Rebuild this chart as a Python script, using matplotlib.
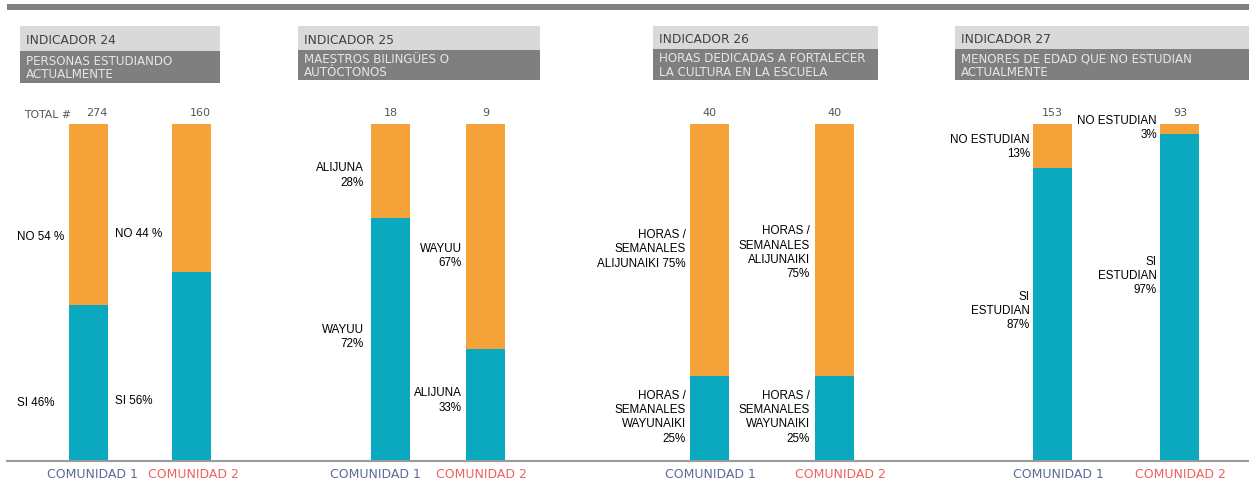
import numpy as np
import matplotlib
matplotlib.use('Agg')
import matplotlib.pyplot as plt
from matplotlib.patches import Rectangle

# data
indicadores = ['INDICADOR 24', 'INDICADOR 25', 'INDICADOR 26', 'INDICADOR 27']
subtitulos = ['PERSONAS ESTUDIANDO\nACTUALMENTE',
              'MAESTROS BILINGÜES O\nAUTÓCTONOS',
              'HORAS DEDICADAS A FORTALECER\nLA CULTURA EN LA ESCUELA',
              'MENORES DE EDAD QUE NO ESTUDIAN\nACTUALMENTE']
comunidades = ['COMUNIDAD 1', 'COMUNIDAD 2']
totales = [[274, 160], [18, 9], [40, 40], [153, 93]]
base_pct = [[46, 56], [72, 33], [25, 25], [87, 97]]   # teal segment (bottom)
sup_pct = [[54, 44], [28, 67], [75, 75], [13, 3]]     # orange segment (top)
etiq_sup = [['NO 54 %', 'NO 44 %'],
            ['ALIJUNA\n28%', 'WAYUU\n67%'],
            ['HORAS /\nSEMANALES\nALIJUNAIKI 75%', 'HORAS /\nSEMANALES\nALIJUNAIKI\n75%'],
            ['NO ESTUDIAN\n13%', 'NO ESTUDIAN\n3%']]
etiq_inf = [['SI 46%', 'SI 56%'],
            ['WAYUU\n72%', 'ALIJUNA\n33%'],
            ['HORAS /\nSEMANALES\nWAYUNAIKI\n25%', 'HORAS /\nSEMANALES\nWAYUNAIKI\n25%'],
            ['SI\nESTUDIAN\n87%', 'SI\nESTUDIAN\n97%']]
# label heights (percent scale)
y_sup = [[66.7, 67.6], [85, 61], [63, 62], [93.5, 99]]
y_inf = [[17.3, 17.9], [37, 18], [13, 13], [44.6, 55]]

# layout (pixels)
bar_x = [[89, 192], [390.5, 486], [709.5, 835], [1052.5, 1180]]
bar_w = 39
headers = [(20, 220, 52, 84), (298, 540, 51, 81), (653, 878, 50, 81), (955, 1249, 50, 81)]
lab_left = [True, False, False, False]
lab_x = [[17, 115], [364, 462], [686, 810], [1030, 1157]]
com_x = [[92, 193], [375, 481], [710, 840], [1058, 1180]]

TEAL = '#0AA9C0'
ORANGE = '#F5A338'
C1 = '#5B6B98'
C2 = '#F0605F'
W, H = 1249, 481
px = 3.36  # pixels per percent
base_px = 461

fig = plt.figure(figsize=(W / 100, H / 100), dpi=100)
deco = fig.add_axes([0, 0, 1, 1])
deco.set_xlim(0, W)
deco.set_ylim(H, 0)
deco.axis('off')

ax = fig.add_axes([0, 0, 1, 1], facecolor='none')
ax.set_xlim(0, W)
ax.set_ylim(-(H - base_px) / px, base_px / px)
ax.axis('off')

# top band and baseline
deco.add_patch(Rectangle((7, 5), W - 7, 6, color='#808080', lw=0))
deco.plot([7, W], [462, 462], color='#9a9a9a', lw=1.5)

for i in range(4):
    x0, x1, yd0, yd1 = headers[i]
    deco.add_patch(Rectangle((x0, 27), x1 - x0, yd0 - 27, color='#D9D9D9', lw=0))
    deco.add_patch(Rectangle((x0, yd0), x1 - x0, yd1 - yd0, color='#7F7F7F', lw=0))
    deco.text(x0 + 6, (27 + yd0) / 2 + 1, indicadores[i], fontsize=8.8, color='#404040',
              va='center', ha='left', family='DejaVu Sans')
    deco.text(x0 + 6, (yd0 + yd1) / 2, subtitulos[i], fontsize=8.6, color='#e6e6e6',
              va='center', ha='left', family='DejaVu Sans', linespacing=1.05)

    for j in range(2):
        x = bar_x[i][j]
        ax.bar(x, base_pct[i][j], width=bar_w, color=TEAL, lw=0)
        ax.bar(x, sup_pct[i][j], bottom=base_pct[i][j], width=bar_w, color=ORANGE, lw=0)
        ax.text(x + (8 if i == 0 else 0), 103.5, str(totales[i][j]), ha='center', va='center',
                fontsize=8, color='#555555', family='DejaVu Sans')
        ha = 'left' if lab_left[i] else 'right'
        for txt, yy in ((etiq_sup[i][j], y_sup[i][j]), (etiq_inf[i][j], y_inf[i][j])):
            ax.text(lab_x[i][j], yy, txt, ha=ha, va='center', fontsize=8.4,
                    fontweight='medium', family='Liberation Sans', color='#000000',
                    multialignment=ha, linespacing=1.25)
        deco.text(com_x[i][j], 475, comunidades[j], ha='center', va='center', fontsize=9,
                  color=C1 if j == 0 else C2, family='DejaVu Sans')

deco.text(24, 114.5, 'TOTAL #', ha='left', va='center', fontsize=7.8, color='#555555',
          family='DejaVu Sans')

fig.savefig('out.png', dpi=100)
